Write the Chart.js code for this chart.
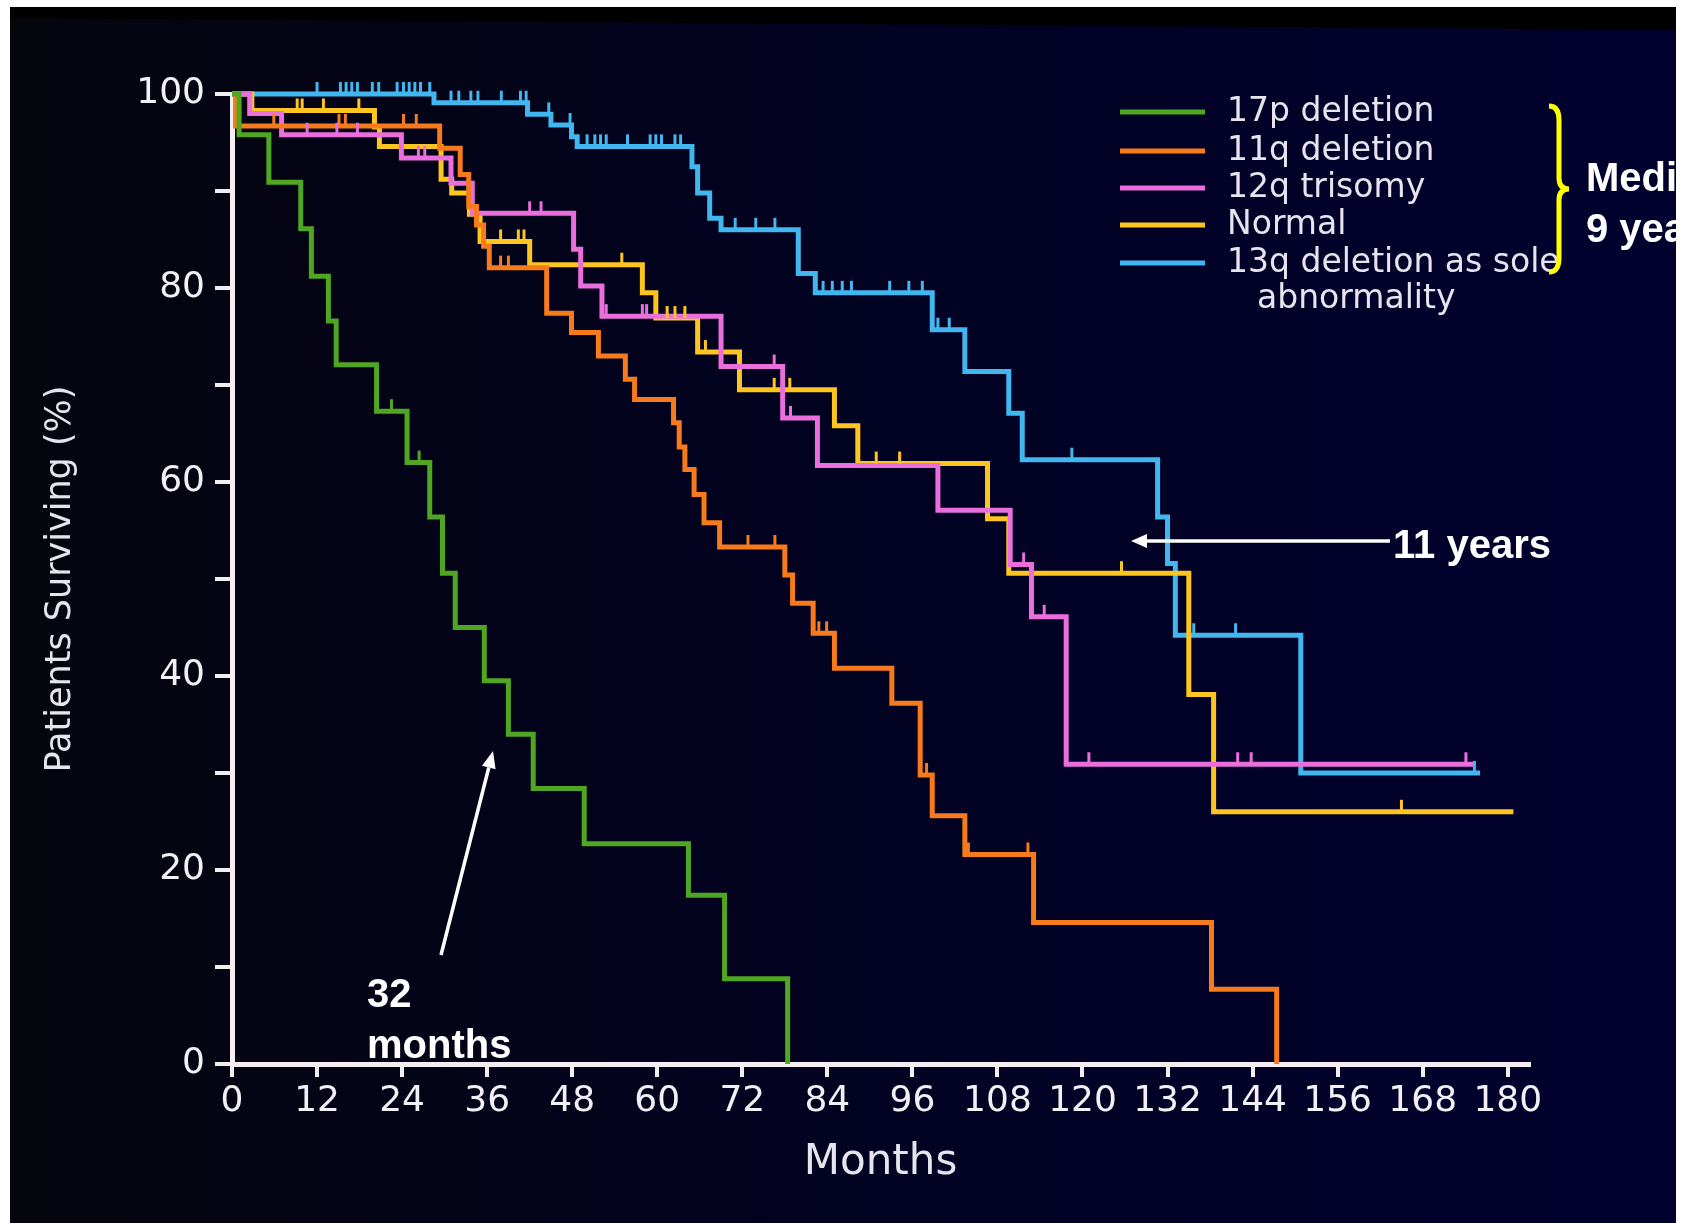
<!DOCTYPE html>
<html>
<head>
<meta charset="utf-8">
<title>Survival by cytogenetic group</title>
<script src="https://cdn.jsdelivr.net/npm/chart.js@4.4.1/dist/chart.umd.min.js"></script>
<style>
  html, body { margin: 0; padding: 0; background: #fff; }
  canvas { display: block; }
</style>
</head>
<body>
<canvas id="kmchart" width="1681" height="1223"></canvas>
<script>
const xTickLabels = [0, 12, 24, 36, 48, 60, 72, 84, 96, 108, 120, 132, 144, 156, 168, 180];
const yTickLabels = [0, 20, 40, 60, 80, 100];

const groupLabels = ["17p deletion", "11q deletion", "12q trisomy", "Normal", "13q deletion as sole\nabnormality"];
const groupColors = ["#4fa623", "#f77b1c", "#ea6fdc", "#fdc51f", "#41b6ef"];

// 17p deletion
const months17p = [0, 1, 5.2, 9.7, 11.2, 13.6, 14.7, 20.4, 24.7, 27.9, 29.7, 31.5, 35.6, 39.0, 42.5, 49.7, 64.4, 69.5, 78.4];
const surv17p = [100, 95.8, 90.9, 86.1, 81.2, 76.6, 72.1, 67.3, 62.0, 56.4, 50.6, 45.0, 39.5, 34.0, 28.4, 22.7, 17.4, 8.8, 0];
const cens17p = [22.5, 26.4];

// 11q deletion
const months11q = [0, 0.5, 29.3, 32.2, 33.4, 34.5, 35.5, 36.3, 44.4, 47.9, 51.7, 55.5, 56.8, 62.3, 63.1, 63.9, 65.2, 66.6, 68.8, 78.0, 79.1, 82.0, 85.0, 93.1, 97.1, 98.8, 103.4, 113.1, 138.2, 147.4];
const surv11q = [100, 96.7, 94.4, 91.7, 88.4, 86.5, 84.3, 82.1, 77.4, 75.4, 73.0, 70.6, 68.5, 66.1, 63.6, 61.3, 58.7, 55.8, 53.3, 50.4, 47.5, 44.4, 40.8, 37.2, 29.8, 25.6, 21.6, 14.6, 7.7, 0];
const cens11q = [5.9, 15.1, 16.0, 24.2, 26.0, 37.9, 39.0, 72.8, 76.6, 82.8, 83.9, 98.0, 103.9, 112.3];

// 12q trisomy
const months12q = [0, 2.5, 7.0, 23.9, 30.9, 33.9, 48.2, 49.2, 52.2, 69.0, 77.7, 82.6, 99.6, 109.8, 112.8, 117.7, 175.5];
const surv12q = [100, 98.0, 95.8, 93.4, 90.8, 87.7, 84.0, 80.2, 77.1, 71.9, 66.6, 61.7, 57.1, 51.5, 46.1, 30.9, 30.9];
const cens12q = [10.6, 14.8, 17.7, 26.3, 27.2, 42.0, 43.6, 52.8, 57.9, 58.5, 76.5, 78.8, 111.7, 114.6, 120.9, 141.9, 143.8, 174.1];

// normal karyotype
const monthsNormal = [0, 2.8, 20.1, 20.8, 29.5, 31.0, 33.5, 35.0, 42.0, 57.9, 59.8, 65.7, 71.6, 85.0, 88.3, 106.6, 109.6, 135.0, 138.5, 180.8];
const survNormal = [100, 98.3, 96.6, 94.6, 91.2, 89.8, 87.6, 84.8, 82.4, 79.5, 76.9, 73.4, 69.5, 65.8, 61.9, 56.2, 50.6, 38.1, 26.0, 26.0];
const censNormal = [9.2, 9.9, 12.9, 17.9, 37.9, 40.4, 41.2, 55.0, 61.4, 62.5, 63.9, 66.8, 76.5, 78.7, 90.9, 94.2, 125.5, 165.0];

// 13q deletion as sole abnormality
const months13q = [0, 28.5, 41.7, 45.0, 47.9, 48.7, 64.9, 65.7, 67.4, 69.0, 79.9, 82.3, 98.8, 103.4, 109.6, 111.5, 130.6, 132.0, 133.1, 150.8, 176.1];
const surv13q = [100, 99.1, 97.9, 96.8, 95.6, 94.6, 92.5, 89.8, 87.2, 86.0, 81.5, 79.5, 75.7, 71.4, 67.1, 62.3, 56.4, 51.6, 44.2, 30.0, 30.0];
const cens13q = [12.0, 15.3, 16.1, 16.9, 17.7, 19.8, 20.7, 23.3, 24.2, 25.0, 25.8, 26.6, 27.9, 30.9, 32.0, 33.7, 34.7, 38.0, 40.7, 41.5, 44.7, 47.7, 50.1, 51.2, 52.0, 52.8, 55.8, 59.0, 59.8, 60.6, 62.5, 63.3, 71.0, 73.9, 76.6, 83.4, 84.7, 86.1, 87.4, 92.8, 95.5, 97.4, 99.6, 101.2, 118.5, 135.7, 141.6, 175.3];

const groups = [
  { t: months17p, s: surv17p, c: cens17p },
  { t: months11q, s: surv11q, c: cens11q },
  { t: months12q, s: surv12q, c: cens12q },
  { t: monthsNormal, s: survNormal, c: censNormal },
  { t: months13q, s: surv13q, c: cens13q },
];

function steps(times, surv) {
  return times.map((t, i) => ({ x: t, y: surv[i] }));
}

// survival level of the step curve at time t
function survAt(times, surv, t) {
  let s = surv[0];
  for (let i = 0; i < times.length; i++) {
    if (times[i] <= t) s = surv[i];
  }
  return s;
}

function arrow(ctx, x1, y1, x2, y2, head, half) {
  const a = Math.atan2(y2 - y1, x2 - x1);
  const bx = x2 - head * Math.cos(a);
  const by = y2 - head * Math.sin(a);
  ctx.beginPath();
  ctx.moveTo(x1, y1);
  ctx.lineTo(bx, by);
  ctx.stroke();
  ctx.beginPath();
  ctx.moveTo(x2, y2);
  ctx.lineTo(bx + half * Math.sin(a), by - half * Math.cos(a));
  ctx.lineTo(bx - half * Math.sin(a), by + half * Math.cos(a));
  ctx.closePath();
  ctx.fill();
}

const slideBackground = {
  id: "slideBackground",
  beforeDraw(chart) {
    const { ctx, width, height } = chart;
    ctx.save();
    ctx.fillStyle = "#ffffff";
    ctx.fillRect(0, 0, width, height);
    ctx.fillStyle = "#000000";
    ctx.fillRect(10, 7, width - 15, height - 7);
    const g = ctx.createLinearGradient(10, 0, width, 0);
    g.addColorStop(0, "#05050d");
    g.addColorStop(0.45, "#020220");
    g.addColorStop(1, "#01012f");
    ctx.fillStyle = g;
    ctx.beginPath();
    ctx.moveTo(10, 18);
    ctx.lineTo(width - 5, 30);
    ctx.lineTo(width - 5, height);
    ctx.lineTo(10, height);
    ctx.closePath();
    ctx.fill();
    ctx.restore();
  },
};

const censorMarks = {
  id: "censorMarks",
  afterDatasetsDraw(chart) {
    const { ctx, scales: { x, y } } = chart;
    ctx.save();
    ctx.lineWidth = 3;
    groups.forEach((g, k) => {
      ctx.strokeStyle = groupColors[k];
      g.c.forEach((t) => {
        const px = x.getPixelForValue(t);
        const py = y.getPixelForValue(survAt(g.t, g.s, t));
        ctx.beginPath();
        ctx.moveTo(px, py);
        ctx.lineTo(px, py - 12);
        ctx.stroke();
      });
    });
    ctx.restore();
  },
};

const slideNotes = {
  id: "slideNotes",
  afterDraw(chart) {
    const { ctx } = chart;
    ctx.save();

    // legend
    const rowY = [112, 151, 188, 225, 263];
    ctx.font = "33px 'DejaVu Sans'";
    ctx.textBaseline = "middle";
    ctx.textAlign = "left";
    groupLabels.forEach((label, k) => {
      ctx.strokeStyle = groupColors[k];
      ctx.lineWidth = 5;
      ctx.beginPath();
      ctx.moveTo(1120, rowY[k]);
      ctx.lineTo(1205, rowY[k]);
      ctx.stroke();
      ctx.fillStyle = "#e8e4ee";
      label.split("\n").forEach((line, j) => {
        ctx.fillText(line, 1227 + j * 30, rowY[k] + j * 36);
      });
    });

    // brace
    ctx.strokeStyle = "#ffff00";
    ctx.lineWidth = 5;
    ctx.beginPath();
    ctx.moveTo(1549, 106);
    ctx.quadraticCurveTo(1559, 106, 1559, 120);
    ctx.lineTo(1559, 178);
    ctx.quadraticCurveTo(1559, 189, 1569, 189);
    ctx.quadraticCurveTo(1559, 189, 1559, 200);
    ctx.lineTo(1559, 258);
    ctx.quadraticCurveTo(1559, 272, 1549, 272);
    ctx.stroke();

    // slide annotations
    ctx.fillStyle = "#ffffff";
    ctx.strokeStyle = "#ffffff";
    ctx.font = "bold 40px 'Liberation Sans'";
    ctx.fillText("Median", 1586, 180);
    ctx.fillText("9 years", 1586, 231);
    ctx.fillText("11 years", 1393, 547);
    ctx.fillText("32", 367, 996);
    ctx.fillText("months", 367, 1047);

    ctx.lineWidth = 3.5;
    arrow(ctx, 1390, 541, 1131, 541, 16, 7);
    arrow(ctx, 441, 955, 493, 751, 17, 7);

    ctx.restore();
  },
};

Chart.defaults.font.family = "'DejaVu Sans', sans-serif";

const axisColor = "#f4eef2";
const textColor = "#f2f0f4";

const ctx = document.getElementById("kmchart").getContext("2d");
const kmChart = new Chart(ctx, {
  type: "line",
  data: {
    datasets: groups.map((g, k) => ({
      label: groupLabels[k].replace("\n", " "),
      data: steps(g.t, g.s),
      borderColor: groupColors[k],
      borderWidth: 5,
      stepped: true,
      pointRadius: 0,
      fill: false,
      clip: false,
    })),
  },
  options: {
    responsive: false,
    animation: false,
    layout: { padding: { top: 94, right: 152, left: 0, bottom: 0 } },
    plugins: {
      legend: { display: false },
      tooltip: { enabled: false },
    },
    scales: {
      x: {
        type: "linear",
        min: 0,
        max: 183,
        afterFit(scale) {
          scale.height = 159;
        },
        ticks: {
          stepSize: 12,
          includeBounds: false,
          autoSkip: false,
          maxRotation: 0,
          color: textColor,
          font: { size: 36 },
          padding: 3,
          callback: (v) => (xTickLabels.includes(v) ? v : ""),
        },
        grid: { drawOnChartArea: false, drawTicks: true, tickLength: 13, color: axisColor, lineWidth: 4 },
        border: { display: true, color: axisColor, width: 5 },
        title: {
          display: true,
          text: "Months",
          color: "#e6e4ec",
          font: { size: 42 },
          padding: { top: 0, bottom: 35 },
        },
      },
      y: {
        min: 0,
        max: 100,
        afterFit(scale) {
          scale.width = 232;
        },
        ticks: {
          stepSize: 10,
          color: textColor,
          font: { size: 36 },
          padding: 10,
          callback: (v) => (yTickLabels.includes(v) ? v : ""),
        },
        grid: { drawOnChartArea: false, drawTicks: true, tickLength: 17, color: axisColor, lineWidth: 4 },
        border: { display: true, color: axisColor, width: 5 },
        title: {
          display: true,
          text: "Patients Surviving (%)",
          color: "#e6e4ec",
          font: { size: 35 },
          padding: { top: 40, bottom: 0 },
        },
      },
    },
  },
  plugins: [slideBackground, censorMarks, slideNotes],
});
</script>
</body>
</html>
